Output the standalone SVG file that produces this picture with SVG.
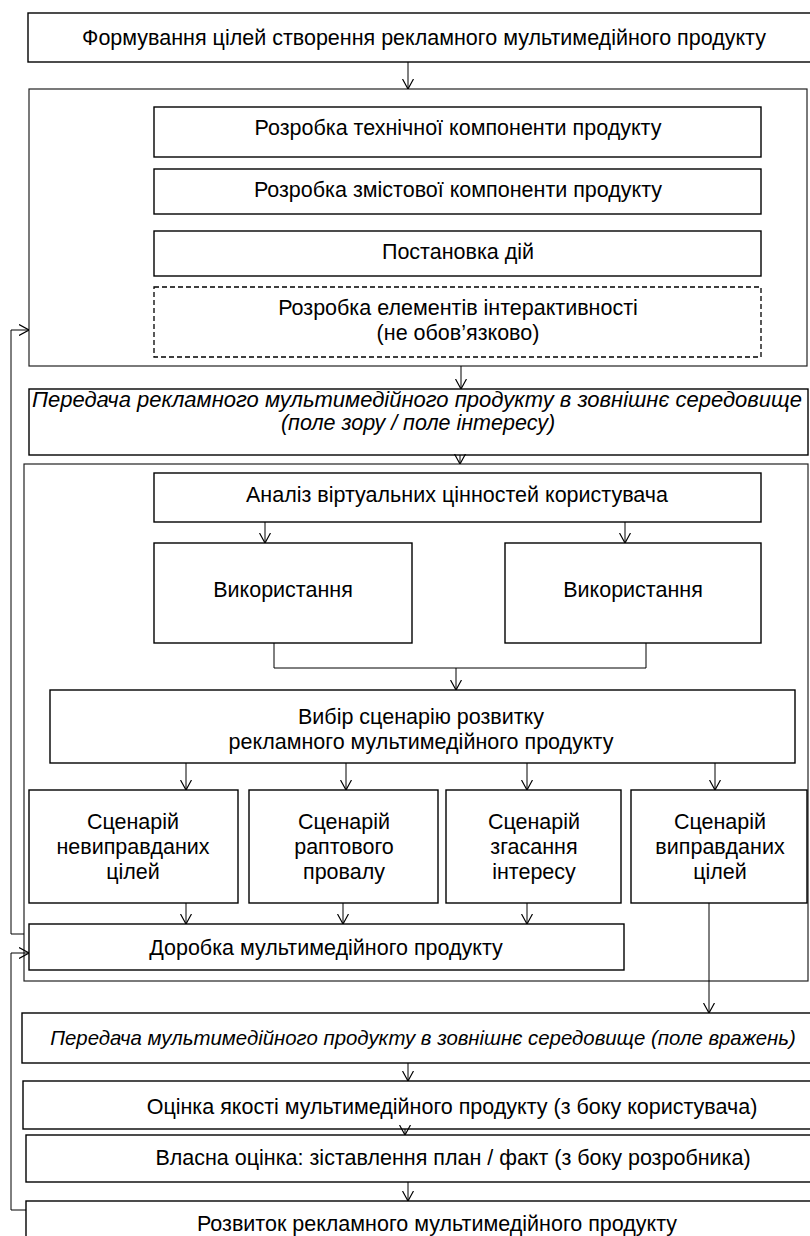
<svg xmlns="http://www.w3.org/2000/svg" width="810" height="1236" viewBox="0 0 810 1236">
<style>
.box{fill:#fff;stroke:#000;stroke-width:1.4}
.cont{fill:none;stroke:#222;stroke-width:1.2}
.dash{fill:#fff;stroke:#000;stroke-width:1.3;stroke-dasharray:5,3}
.t{font-family:"Liberation Sans",Arial,sans-serif;font-size:21.5px;fill:#000;text-anchor:middle}
.i{font-style:italic}
.ln{fill:none;stroke:#000;stroke-width:1}
</style>
<defs>
<marker id="ah" viewBox="0 0 10 12" refX="10" refY="6" markerWidth="10" markerHeight="12" markerUnits="userSpaceOnUse" orient="auto">
<path d="M0,0.5 L10,6 L0,11.5" fill="none" stroke="#000" stroke-width="1.2"/>
</marker>
</defs>
<rect width="810" height="1236" fill="#fff"/>

<g id="n-top"><rect class="box" x="28" y="13" width="790" height="49"/><text class="t" x="424" y="45">Формування цілей створення рекламного мультимедійного продукту</text></g>

<g id="c1"><rect class="cont" x="29" y="89" width="778" height="277"/></g>
<g id="n-tech"><rect class="box" x="154" y="107" width="607" height="50"/><text class="t" x="458" y="135">Розробка технічної компоненти продукту</text></g>
<g id="n-content"><rect class="box" x="154" y="169" width="607" height="45"/><text class="t" x="458" y="197">Розробка змістової компоненти продукту</text></g>
<g id="n-actions"><rect class="box" x="154" y="231" width="607" height="45"/><text class="t" x="458" y="259">Постановка дій</text></g>
<g id="n-interact"><rect class="dash" x="154" y="287" width="607" height="70"/><text class="t" x="458" y="315">Розробка елементів інтерактивності</text><text class="t" x="458" y="340">(не обов’язково)</text></g>

<g id="n-transfer1"><rect class="box" x="29" y="389" width="779" height="66"/><text class="t i" x="417" y="407" textLength="770" lengthAdjust="spacingAndGlyphs">Передача рекламного мультимедійного продукту в зовнішнє середовище</text><text class="t i" x="418" y="430">(поле зору / поле інтересу)</text></g>

<g id="c2"><rect class="cont" x="24" y="464" width="784" height="517"/></g>
<g id="n-analysis"><rect class="box" x="154" y="473" width="607" height="49"/><text class="t" x="457" y="502">Аналіз віртуальних цінностей користувача</text></g>
<g id="n-use1"><rect class="box" x="154" y="543" width="258" height="100"/><text class="t" x="283" y="597">Використання</text></g>
<g id="n-use2"><rect class="box" x="505" y="543" width="256" height="100"/><text class="t" x="633" y="597">Використання</text></g>
<g id="n-choice"><rect class="box" x="50" y="690" width="745" height="73"/><text class="t" x="421" y="724">Вибір сценарію розвитку</text><text class="t" x="421" y="749">рекламного мультимедійного продукту</text></g>
<g id="n-s1"><rect class="box" x="29" y="790" width="209" height="113"/><text class="t" x="133" y="829">Сценарій</text><text class="t" x="133" y="854">невиправданих</text><text class="t" x="133" y="879">цілей</text></g>
<g id="n-s2"><rect class="box" x="249" y="790" width="189" height="113"/><text class="t" x="344" y="829">Сценарій</text><text class="t" x="344" y="854">раптового</text><text class="t" x="344" y="879">провалу</text></g>
<g id="n-s3"><rect class="box" x="446" y="790" width="175" height="113"/><text class="t" x="534" y="829">Сценарій</text><text class="t" x="534" y="854">згасання</text><text class="t" x="534" y="879">інтересу</text></g>
<g id="n-s4"><rect class="box" x="631" y="790" width="176" height="113"/><text class="t" x="720" y="829">Сценарій</text><text class="t" x="720" y="854">виправданих</text><text class="t" x="720" y="879">цілей</text></g>
<g id="n-rework"><rect class="box" x="29" y="924" width="595" height="46"/><text class="t" x="326" y="955">Доробка мультимедійного продукту</text></g>

<g id="n-transfer2"><rect class="box" x="22" y="1013" width="800" height="50"/><text class="t i" x="423" y="1045" style="font-size:20.4px">Передача мультимедійного продукту в зовнішнє середовище (поле вражень)</text></g>
<g id="n-quality"><rect class="box" x="23" y="1081" width="800" height="48"/><text class="t" x="452" y="1114">Оцінка якості мультимедійного продукту (з боку користувача)</text></g>
<g id="n-self"><rect class="box" x="26" y="1135" width="800" height="47"/><text class="t" x="453" y="1165">Власна оцінка: зіставлення план / факт (з боку розробника)</text></g>
<g id="n-dev"><rect class="box" x="26" y="1201" width="800" height="60"/><text class="t" x="437" y="1231">Розвиток рекламного мультимедійного продукту</text></g>

<g id="connectors">
<line class="ln" x1="408" y1="62" x2="408" y2="89" marker-end="url(#ah)"/>
<line class="ln" x1="461" y1="366" x2="461" y2="389" marker-end="url(#ah)"/>
<line class="ln" x1="460" y1="455" x2="460" y2="464" marker-end="url(#ah)"/>
<line class="ln" x1="265" y1="522" x2="265" y2="543" marker-end="url(#ah)"/>
<line class="ln" x1="625" y1="522" x2="625" y2="543" marker-end="url(#ah)"/>
<polyline class="ln" points="274,643 274,668 646,668 646,643"/>
<line class="ln" x1="456" y1="668" x2="456" y2="690" marker-end="url(#ah)"/>
<line class="ln" x1="186" y1="763" x2="186" y2="790" marker-end="url(#ah)"/>
<line class="ln" x1="346" y1="763" x2="346" y2="790" marker-end="url(#ah)"/>
<line class="ln" x1="527" y1="763" x2="527" y2="790" marker-end="url(#ah)"/>
<line class="ln" x1="715" y1="763" x2="715" y2="790" marker-end="url(#ah)"/>
<line class="ln" x1="186" y1="903" x2="186" y2="924" marker-end="url(#ah)"/>
<line class="ln" x1="343" y1="903" x2="343" y2="924" marker-end="url(#ah)"/>
<line class="ln" x1="527" y1="903" x2="527" y2="924" marker-end="url(#ah)"/>
<line class="ln" x1="709" y1="903" x2="709" y2="1013" marker-end="url(#ah)"/>
<line class="ln" x1="408" y1="1063" x2="408" y2="1081" marker-end="url(#ah)"/>
<line class="ln" x1="405" y1="1129" x2="405" y2="1135" marker-end="url(#ah)"/>
<line class="ln" x1="408" y1="1182" x2="408" y2="1201" marker-end="url(#ah)"/>
<polyline class="ln" points="24,934 11,934 11,330 29,330" marker-end="url(#ah)"/>
<polyline class="ln" points="26,1210 11,1210 11,953 29,953" marker-end="url(#ah)"/>
</g>
</svg>
